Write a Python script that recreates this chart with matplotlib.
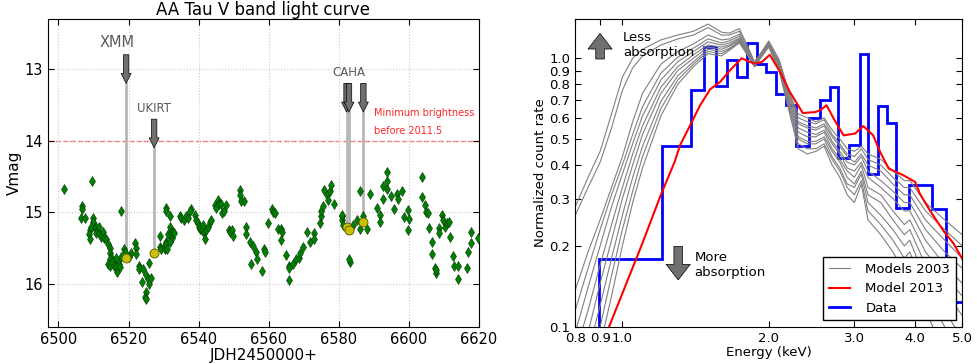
import numpy as np
import matplotlib
matplotlib.use("Agg")
import matplotlib.pyplot as plt
from matplotlib.ticker import FixedLocator, FormatStrFormatter, NullLocator

# ---------------- left panel data: V band light curve ----------------
jd = [6501.7, 6509.5, 6506.8, 6506.8, 6506.5, 6507.7, 6509.8, 6509.8, 6508.9, 6508.7,
      6508.9, 6509.3, 6510.3, 6510.8, 6510.6, 6511.5, 6511.7, 6512.2, 6512.7, 6512.9,
      6513.6, 6514.1, 6514.6, 6514.8, 6515.0, 6514.6, 6514.1, 6514.8, 6515.3, 6515.7,
      6516.3, 6516.5, 6516.7, 6517.2, 6517.6, 6517.7, 6517.9, 6518.6, 6518.9, 6520.7,
      6521.7, 6522.0, 6522.0, 6520.1, 6522.9, 6523.1, 6523.7, 6524.1, 6524.9, 6524.9,
      6524.6, 6525.0, 6525.5, 6525.8, 6525.8, 6526.5, 6528.9, 6529.3, 6529.0, 6530.0,
      6530.3, 6530.6, 6530.8, 6531.0, 6530.6, 6530.8, 6531.7, 6531.9, 6531.3, 6532.2,
      6532.5, 6532.7, 6533.1, 6531.7, 6534.6, 6535.0, 6535.7, 6536.5, 6537.0, 6537.9,
      6537.6, 6538.9, 6539.3, 6539.8, 6540.1, 6540.3, 6541.0, 6541.2, 6541.4, 6541.7,
      6542.2, 6542.7, 6543.1, 6543.6, 6544.6, 6544.9, 6545.5, 6545.8, 6546.5, 6546.8,
      6547.1, 6547.7, 6548.7, 6549.0, 6549.6, 6549.8, 6551.7, 6551.7, 6552.2, 6552.9,
      6553.6, 6553.6, 6554.6, 6554.8, 6555.5, 6556.3, 6556.7, 6558.0, 6558.6, 6558.9,
      6559.8, 6560.8, 6561.2, 6561.7, 6562.7, 6563.6, 6563.8, 6563.6, 6564.8, 6565.8,
      6565.9, 6565.7, 6566.8, 6567.7, 6568.7, 6568.9, 6569.8, 6570.8, 6571.7, 6572.9,
      6572.9, 6574.6, 6574.8, 6574.8, 6575.5, 6575.7, 6576.5, 6576.8, 6577.4, 6577.7,
      6578.6, 6580.8, 6580.8, 6581.0, 6581.2, 6583.1, 6583.0, 6583.9, 6585.1, 6586.1,
      6586.1, 6587.0, 6588.0, 6588.9, 6590.9, 6591.8, 6591.8, 6592.7, 6592.7, 6593.6,
      6593.8, 6593.8, 6594.8, 6595.7, 6596.7, 6597.0, 6597.9, 6598.7, 6599.9, 6599.8,
      6599.8, 6603.6, 6603.6, 6604.6, 6604.8, 6605.5, 6605.7, 6606.7, 6606.7, 6607.5,
      6607.6, 6607.7, 6608.6, 6608.7, 6609.4, 6609.8, 6610.3, 6610.8, 6611.4, 6611.7,
      6612.7, 6612.9, 6613.9, 6613.9, 6616.8, 6616.7, 6617.6, 6617.7, 6619.8]
vmag = [14.68, 14.56, 14.92, 14.96, 15.08, 15.08, 15.08, 15.13, 15.25, 15.31,
        15.38, 15.20, 15.22, 15.20, 15.29, 15.29, 15.20, 15.34, 15.27, 15.36,
        15.38, 15.45, 15.50, 15.57, 15.62, 15.66, 15.73, 15.75, 15.69, 15.75,
        15.64, 15.75, 15.83, 15.73, 15.76, 14.99, 15.63, 15.51, 15.55, 15.57,
        15.43, 15.50, 15.59, 15.63, 15.75, 15.80, 15.97, 15.80, 15.88, 16.12,
        16.19, 16.22, 15.94, 16.01, 15.71, 15.92, 15.48, 15.51, 15.33, 15.48,
        15.52, 15.41, 15.45, 15.51, 14.94, 14.99, 15.05, 15.20, 15.31, 15.29,
        15.36, 15.27, 15.29, 15.41, 15.06, 15.08, 15.11, 15.05, 15.08, 14.96,
        14.99, 15.04, 15.11, 15.15, 15.20, 15.24, 15.25, 15.18, 15.29, 15.38,
        15.25, 15.20, 15.14, 15.11, 14.90, 14.94, 14.83, 14.88, 14.88, 15.01,
        14.98, 14.90, 15.25, 15.27, 15.25, 15.33, 14.69, 14.76, 14.85, 14.85,
        15.20, 15.31, 15.42, 15.72, 15.47, 15.55, 15.66, 15.82, 15.52, 15.55,
        15.15, 14.96, 15.00, 15.01, 15.24, 15.24, 15.27, 15.39, 15.60, 15.75,
        15.78, 15.95, 15.73, 15.65, 15.64, 15.57, 15.49, 15.28, 15.41, 15.29,
        15.37, 15.15, 15.06, 14.99, 14.92, 14.69, 14.76, 14.83, 14.71, 14.62,
        14.88, 15.06, 15.11, 15.04, 15.18, 15.69, 15.66, 15.18, 15.11, 14.70,
        15.24, 15.06, 15.24, 14.75, 14.94, 15.04, 15.13, 14.81, 14.64, 14.67,
        14.57, 14.44, 14.77, 14.96, 14.75, 14.81, 14.70, 15.07, 15.10, 14.97,
        15.25, 14.51, 14.79, 14.90, 15.00, 15.01, 15.22, 15.41, 15.59, 15.78,
        15.85, 15.81, 15.22, 15.29, 15.04, 15.11, 15.20, 15.15, 15.13, 15.34,
        15.61, 15.75, 15.75, 15.93, 15.55, 15.78, 15.27, 15.43, 15.36]

# simultaneous observations (date, V mag at that time)
obs_jd = [6519.3, 6527.3, 6582.2, 6582.9, 6587.0]
obs_mag = [15.64, 15.57, 15.20, 15.25, 15.13]
arrow_tail = [12.8, 13.7, 13.2, 13.2, 13.2]
arrow_tip = [13.2, 14.1, 13.6, 13.6, 13.6]

min_bright = 14.0

# ---------------- right panel data: X-ray spectra ----------------
data_edges = [0.897, 1.208, 1.382, 1.475, 1.558, 1.640, 1.724, 1.807, 1.890, 1.975,
              2.065, 2.169, 2.277, 2.425, 2.551, 2.667, 2.782, 2.931, 3.074, 3.198,
              3.354, 3.50, 3.66, 3.877, 4.33, 4.634, 5.2]
data_rate = [0.178, 0.470, 0.760, 1.10, 0.787, 0.989, 0.848, 1.135, 0.955, 0.889,
             0.734, 0.671, 0.470, 0.598, 0.701, 0.778, 0.425, 0.477, 1.041, 0.372,
             0.663, 0.574, 0.276, 0.336, 0.275, 0.124]

model13_e = [0.939, 1.0, 1.1, 1.2, 1.28, 1.314, 1.378, 1.445, 1.515, 1.588,
             1.665, 1.76, 1.831, 1.875, 1.935, 2.01, 2.11, 2.21, 2.35, 2.49,
             2.55, 2.63, 2.72, 2.85, 3.01, 3.13, 3.28, 3.39, 3.53, 3.79,
             4.0, 4.09, 4.29, 4.57, 4.80, 5.0]
model13_rate = [0.100, 0.133, 0.205, 0.31, 0.41, 0.474, 0.562, 0.668, 0.766, 0.816,
                0.902, 1.0, 0.968, 0.955, 0.968, 1.03, 0.889, 0.749, 0.625, 0.63,
                0.64, 0.668, 0.596, 0.516, 0.524, 0.559, 0.516, 0.447, 0.388, 0.366,
                0.346, 0.313, 0.271, 0.228, 0.204, 0.179]

# 2003 models, all on one energy grid (least to most absorbed)
model03_e = [0.80, 0.85, 0.90, 0.95, 1.00, 1.05, 1.10, 1.20, 1.30, 1.40,
             1.50, 1.60, 1.66, 1.74, 1.80, 1.87, 1.93, 2.00, 2.10, 2.20,
             2.30, 2.40, 2.50, 2.60, 2.70, 2.80, 2.90, 3.00, 3.10, 3.20,
             3.40, 3.60, 3.80, 3.90, 4.20, 4.60, 5.00]
model03_rates = [
    [0.28, 0.36, 0.45, 0.62, 0.85, 1.00, 1.08, 1.17, 1.22, 1.26,
     1.34, 1.25, 1.24, 1.29, 1.13, 0.97, 1.05, 1.16, 0.99, 0.75,
     0.62, 0.60, 0.58, 0.60, 0.54, 0.50, 0.46, 0.45, 0.47, 0.44,
     0.42, 0.38, 0.35, 0.35, 0.29, 0.25, 0.22],
    [0.26, 0.33, 0.41, 0.55, 0.76, 0.92, 1.02, 1.12, 1.18, 1.22,
     1.30, 1.22, 1.22, 1.26, 1.12, 0.96, 1.05, 1.15, 0.98, 0.74,
     0.60, 0.58, 0.57, 0.59, 0.52, 0.48, 0.44, 0.43, 0.46, 0.42,
     0.40, 0.36, 0.33, 0.33, 0.27, 0.23, 0.20],
    [0.137, 0.19, 0.25, 0.33, 0.43, 0.58, 0.74, 0.95, 1.06, 1.13,
     1.22, 1.17, 1.18, 1.23, 1.10, 0.96, 1.04, 1.14, 0.97, 0.73,
     0.58, 0.56, 0.55, 0.57, 0.51, 0.47, 0.43, 0.41, 0.44, 0.40,
     0.38, 0.34, 0.31, 0.31, 0.25, 0.21, 0.18],
    [0.115, 0.165, 0.23, 0.31, 0.40, 0.52, 0.66, 0.88, 1.01, 1.09,
     1.18, 1.14, 1.16, 1.21, 1.09, 0.95, 1.04, 1.14, 0.96, 0.71,
     0.57, 0.55, 0.54, 0.56, 0.49, 0.45, 0.41, 0.40, 0.43, 0.38,
     0.35, 0.32, 0.29, 0.29, 0.23, 0.19, 0.165],
    [0.095, 0.14, 0.20, 0.28, 0.37, 0.48, 0.61, 0.83, 0.97, 1.06,
     1.15, 1.12, 1.14, 1.19, 1.08, 0.95, 1.03, 1.13, 0.95, 0.70,
     0.55, 0.53, 0.52, 0.54, 0.48, 0.44, 0.39, 0.38, 0.41, 0.36,
     0.33, 0.30, 0.27, 0.27, 0.21, 0.17, 0.145],
    [0.08, 0.115, 0.17, 0.24, 0.33, 0.44, 0.56, 0.78, 0.93, 1.03,
     1.12, 1.10, 1.12, 1.18, 1.07, 0.94, 1.03, 1.12, 0.94, 0.69,
     0.53, 0.51, 0.51, 0.53, 0.46, 0.42, 0.38, 0.36, 0.40, 0.33,
     0.31, 0.27, 0.24, 0.25, 0.19, 0.155, 0.13],
    [0.065, 0.095, 0.145, 0.21, 0.30, 0.40, 0.52, 0.74, 0.90, 1.00,
     1.10, 1.08, 1.11, 1.17, 1.06, 0.94, 1.02, 1.12, 0.93, 0.68,
     0.51, 0.49, 0.49, 0.51, 0.45, 0.41, 0.36, 0.34, 0.38, 0.31,
     0.29, 0.25, 0.22, 0.23, 0.17, 0.135, 0.11],
    [0.055, 0.08, 0.12, 0.18, 0.26, 0.36, 0.47, 0.69, 0.86, 0.97,
     1.08, 1.06, 1.09, 1.16, 1.05, 0.93, 1.02, 1.11, 0.92, 0.66,
     0.50, 0.48, 0.48, 0.50, 0.43, 0.39, 0.34, 0.33, 0.37, 0.29,
     0.26, 0.23, 0.20, 0.21, 0.15, 0.115, 0.09],
    [0.045, 0.065, 0.10, 0.155, 0.23, 0.32, 0.43, 0.65, 0.83, 0.95,
     1.06, 1.04, 1.08, 1.15, 1.05, 0.93, 1.01, 1.11, 0.91, 0.65,
     0.48, 0.46, 0.46, 0.48, 0.42, 0.38, 0.33, 0.31, 0.35, 0.27,
     0.24, 0.21, 0.18, 0.19, 0.135, 0.10, 0.075],
    [0.035, 0.055, 0.085, 0.13, 0.20, 0.29, 0.39, 0.61, 0.80, 0.93,
     1.04, 1.02, 1.07, 1.14, 1.04, 0.93, 1.01, 1.10, 0.90, 0.64,
     0.46, 0.44, 0.45, 0.47, 0.40, 0.36, 0.31, 0.29, 0.34, 0.25,
     0.22, 0.19, 0.16, 0.17, 0.115, 0.08, 0.055],
]

# ---------------- figure ----------------
fig = plt.figure(figsize=(9.77, 3.64), dpi=100)
ax1 = fig.add_axes([0.0491, 0.1025, 0.4412, 0.8453])
ax2 = fig.add_axes([0.5888, 0.1025, 0.3961, 0.8453])

# LEFT: light curve
ax1.axhline(min_bright, color="red", ls="--", lw=1.0, alpha=0.6, zorder=1)
for x, m, tail, tip in zip(obs_jd, obs_mag, arrow_tail, arrow_tip):
    ax1.plot([x, x], [tip, m], color="0.72", lw=2, zorder=2)
    ax1.annotate("", xy=(x, tip), xytext=(x, tail),
                 arrowprops=dict(arrowstyle="simple,head_length=0.55,head_width=0.55,tail_width=0.3",
                                 fc="#707070", ec="black", lw=0.5,
                                 shrinkA=0, shrinkB=0, mutation_scale=13),
                 zorder=3)
ax1.plot(jd, vmag, "d", color="green", mec="#003300", mew=0.4, ms=5, ls="none", zorder=4)
ax1.plot(obs_jd, obs_mag, "o", color="#c8c000", mec="#555500", mew=0.6, ms=6.5, ls="none", zorder=5)

ax1.text(6516.6, 12.63, "XMM", ha="center", va="center", fontsize=10.5, color="0.35")
ax1.text(6527.3, 13.55, "UKIRT", ha="center", va="center", fontsize=8.5, color="0.35")
ax1.text(6582.9, 13.05, "CAHA", ha="center", va="center", fontsize=8.5, color="0.35")
ax1.text(6589.9, 13.61, "Minimum brightness", ha="left", va="center", fontsize=7, color="red", alpha=0.85)
ax1.text(6589.9, 13.86, "before 2011.5", ha="left", va="center", fontsize=7, color="red", alpha=0.85)

ax1.set_xlim(6497, 6620)
ax1.set_ylim(16.6, 12.3)
ax1.set_xticks(np.arange(6500, 6621, 20))
ax1.set_yticks([13, 14, 15, 16])
ax1.grid(True, ls=":", color="0.8", lw=0.8)
ax1.tick_params(direction="in", top=True, right=True, labelsize=10.5, length=4)
ax1.set_title("AA Tau V band light curve", fontsize=12, pad=3)
ax1.set_xlabel("JDH2450000+", fontsize=11, labelpad=1)
ax1.set_ylabel("Vmag", fontsize=11, labelpad=2)

# RIGHT: spectra
for i, rates in enumerate(model03_rates):
    ax2.plot(model03_e, rates, color="0.5", lw=0.8,
             label="Models 2003" if i == 0 else None)
ax2.plot(model13_e, model13_rate, color="red", lw=1.5, label="Model 2013")
ax2.stairs(data_rate, data_edges, baseline=0.05, color="blue", lw=2, label="Data")

ax2.set_xscale("log")
ax2.set_yscale("log")
ax2.set_xlim(0.8, 5.0)
ax2.set_ylim(0.1, 1.4)
ax2.xaxis.set_major_locator(FixedLocator([0.8, 0.9, 1.0, 2.0, 3.0, 4.0, 5.0]))
ax2.xaxis.set_major_formatter(FormatStrFormatter("%.1f"))
ax2.xaxis.set_minor_locator(NullLocator())
ax2.yaxis.set_major_locator(FixedLocator([0.1, 0.2, 0.3, 0.4, 0.5, 0.6, 0.7, 0.8, 0.9, 1.0]))
ax2.yaxis.set_major_formatter(FormatStrFormatter("%.1f"))
ax2.yaxis.set_minor_locator(NullLocator())
ax2.tick_params(direction="in", top=True, right=True, labelsize=9.5, length=4)
ax2.set_xlabel("Energy (keV)", fontsize=9.5, labelpad=1)
ax2.set_ylabel("Normalized count rate", fontsize=9.5, labelpad=2)

arrow_style = "simple,head_length=0.4,head_width=0.62,tail_width=0.22"
ax2.annotate("", xy=(0.064, 0.953), xytext=(0.064, 0.870), xycoords="axes fraction",
             arrowprops=dict(arrowstyle=arrow_style, fc="#707070", ec="black", lw=0.5,
                             shrinkA=0, shrinkB=0, mutation_scale=28))
ax2.text(0.123, 0.915, "Less\nabsorption", transform=ax2.transAxes,
         ha="left", va="center", fontsize=9.5)
ax2.annotate("", xy=(0.266, 0.152), xytext=(0.266, 0.261), xycoords="axes fraction",
             arrowprops=dict(arrowstyle=arrow_style, fc="#707070", ec="black", lw=0.5,
                             shrinkA=0, shrinkB=0, mutation_scale=28))
ax2.text(0.3075, 0.202, "More\nabsorption", transform=ax2.transAxes,
         ha="left", va="center", fontsize=9.5)

leg = ax2.legend(loc="lower right", fontsize=9.5, fancybox=False, framealpha=1,
                 handlelength=1.6, handletextpad=1.2, borderaxespad=0.5)
leg.get_frame().set_edgecolor("black")

fig.savefig("out.png", dpi=100)
